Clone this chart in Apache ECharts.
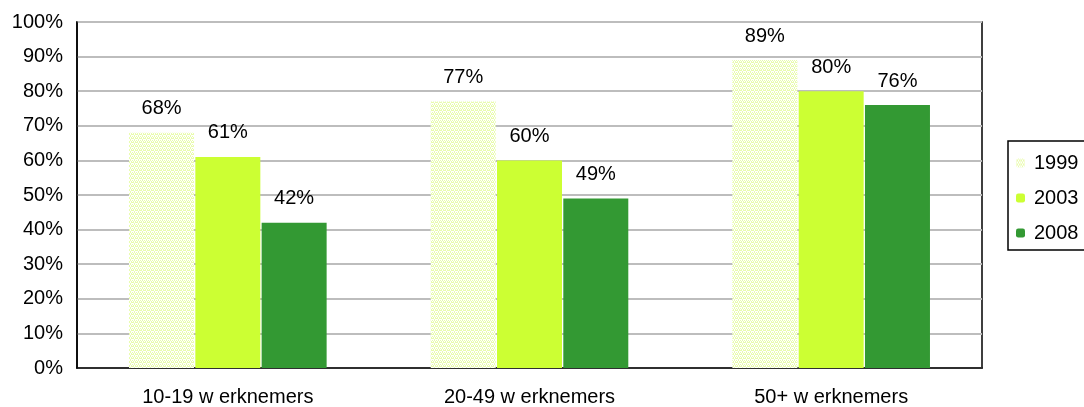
<!DOCTYPE html>
<html>
<head>
<meta charset="utf-8">
<script src="https://cdn.jsdelivr.net/npm/echarts@6/dist/echarts.min.js"></script>
<style>
  html, body { margin: 0; padding: 0; background: #fff; }
  #chart { width: 1084px; height: 407px; }
</style>
</head>
<body>
<div id="chart"></div>
<script>
// Share of companies per size class, by survey year (%)
const categories = ['10-19 w erknemers', '20-49 w erknemers', '50+ w erknemers'];
const years = ['1999', '2003', '2008'];
const values1999 = [68, 77, 89];
const values2003 = [61, 60, 80];
const values2008 = [42, 49, 76];

// Light dotted fill used for the 1999 bars
function dotPattern() {
  const c = document.createElement('canvas');
  c.width = 4; c.height = 4;
  const ctx = c.getContext('2d');
  ctx.fillStyle = '#ffffff';
  ctx.fillRect(0, 0, 4, 4);
  ctx.fillStyle = '#e9fcae';
  ctx.fillRect(0, 0, 1, 1);
  ctx.fillRect(2, 0, 1, 1);
  ctx.fillRect(1, 1, 1, 1);
  ctx.fillRect(3, 1, 1, 1);
  ctx.fillRect(0, 2, 2, 1);
  ctx.fillRect(2, 3, 1, 1);
  ctx.fillRect(3, 2, 1, 1);
  return { image: c, repeat: 'repeat' };
}

const font = 'Liberation Sans, Arial, Helvetica, sans-serif';
const fs = 20;
const labelStyle = {
  show: true, position: 'top', distance: 14,
  formatter: '{c}%', color: '#000', fontSize: fs, fontFamily: font
};

function barSeries(name, data, color) {
  return {
    name, type: 'bar', data,
    barWidth: 65, barGap: '2%',
    itemStyle: { color },
    label: labelStyle
  };
}

const chart = echarts.init(document.getElementById('chart'), null, { renderer: 'canvas' });
chart.setOption({
  animation: false,
  backgroundColor: '#fff',
  grid: {
    left: 77, right: 102, top: 22, bottom: 39,
    show: true, borderColor: '#000', borderWidth: 1.5, backgroundColor: 'transparent'
  },
  legend: {
    orient: 'vertical', left: 1008, top: 141,
    itemWidth: 9, itemHeight: 9, itemGap: 15,
    padding: [12, 20, 7, 8],
    borderColor: '#000', borderWidth: 1.5,
    textStyle: { color: '#000', fontSize: fs, fontFamily: font, padding: [0, 0, 0, 4] },
    data: years
  },
  xAxis: {
    type: 'category', data: categories,
    axisLine: { show: true, lineStyle: { color: '#000', width: 1.5 } },
    axisTick: { show: false },
    axisLabel: { color: '#000', fontSize: fs, fontFamily: font, margin: 19 }
  },
  yAxis: {
    type: 'value', min: 0, max: 100, interval: 10,
    axisLine: { show: true, lineStyle: { color: '#000', width: 1.5 } },
    axisTick: { show: false },
    axisLabel: { color: '#000', fontSize: fs, fontFamily: font, margin: 14, formatter: '{value}%' },
    splitLine: { show: true, lineStyle: { color: '#bdbdbd', width: 2 } }
  },
  series: [
    barSeries('1999', values1999, dotPattern()),
    barSeries('2003', values2003, '#ccff33'),
    barSeries('2008', values2008, '#339933')
  ]
});
</script>
</body>
</html>
